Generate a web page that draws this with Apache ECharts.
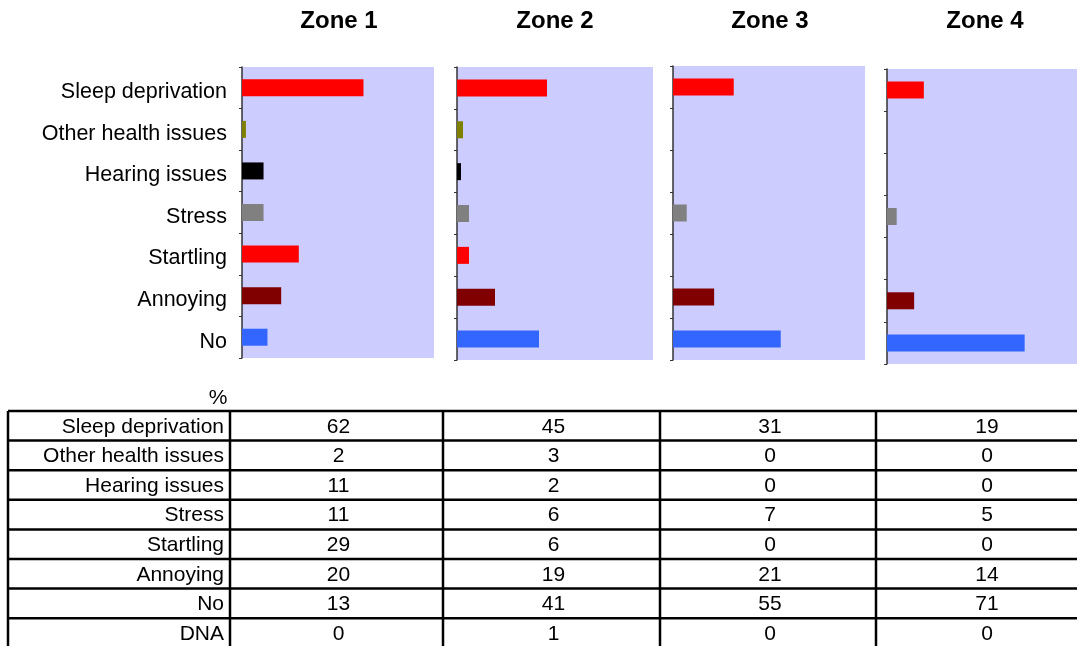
<!DOCTYPE html>
<html>
<head>
<meta charset="utf-8">
<script src="https://cdn.jsdelivr.net/npm/echarts@6/dist/echarts.min.js"></script>
<style>
  html, body { margin: 0; padding: 0; background: #fff; }
  #main { width: 1077px; height: 646px; }
</style>
</head>
<body>
<div id="main"></div>
<script>
// data
const zones = ['Zone 1', 'Zone 2', 'Zone 3', 'Zone 4'];
const categories = ['Sleep deprivation', 'Other health issues', 'Hearing issues', 'Stress', 'Startling', 'Annoying', 'No'];
const rowLabels = categories.concat(['DNA']);
const zone1 = [62, 2, 11, 11, 29, 20, 13, 0];
const zone2 = [45, 3, 2, 6, 6, 19, 41, 1];
const zone3 = [31, 0, 0, 7, 0, 21, 55, 0];
const zone4 = [19, 0, 0, 5, 0, 14, 71, 0];
const zoneValues = [zone1, zone2, zone3, zone4];
const barColors = ['#FF0000', '#808000', '#000000', '#808080', '#FF0000', '#800000', '#3366FF'];

const FONT = '"Liberation Sans", Arial, sans-serif';

// layout of the four small panels
const panels = [
  { left: 242, top: 67, width: 192, height: 291, titleX: 339 },
  { left: 457, top: 67, width: 196, height: 293, titleX: 555 },
  { left: 673, top: 66, width: 192, height: 294, titleX: 770 },
  { left: 887, top: 69, width: 195, height: 295, titleX: 985 }
];

// table geometry
const tableTop = 411;
const rowH = 29.6;
const colX = [8, 230, 443, 660, 876, 1094];
const tableBottom = 646;

const chart = echarts.init(document.getElementById('main'), null, { renderer: 'canvas' });

const grid = panels.map(p => ({
  left: p.left, top: p.top, width: p.width, height: p.height,
  show: true, backgroundColor: '#CCCCFF', borderWidth: 0, containLabel: false
}));

const xAxis = panels.map((p, i) => ({
  type: 'value', gridIndex: i, min: 0, max: 98, show: false
}));

const yAxis = panels.map((p, i) => ({
  type: 'category', gridIndex: i, data: categories, inverse: true,
  axisLine: { show: true, lineStyle: { color: '#333', width: 1.5 } },
  axisTick: { show: true, length: 3, lineStyle: { color: '#333', width: 1 } },
  axisLabel: {
    show: i === 0, margin: 15, color: '#000', fontSize: 21.5, fontFamily: FONT,
    verticalAlign: 'top', lineHeight: 9
  },
  splitLine: { show: false }
}));

const series = zoneValues.map((vals, i) => ({
  type: 'bar', xAxisIndex: i, yAxisIndex: i,
  data: vals.slice(0, categories.length),
  barWidth: 17,
  silent: true,
  itemStyle: { color: (params) => barColors[params.dataIndex] }
}));

// titles + table drawn as graphic elements
const graphics = [];
zones.forEach((z, i) => {
  graphics.push({
    type: 'text', silent: true,
    style: {
      text: z, x: panels[i].titleX, y: 21,
      textAlign: 'center', align: 'center', textVerticalAlign: 'middle', verticalAlign: 'middle',
      font: 'bold 24px ' + FONT, fill: '#000'
    }
  });
});

graphics.push({
  type: 'text', silent: true,
  style: {
    text: '%', x: 218, y: 398,
    textAlign: 'center', align: 'center', textVerticalAlign: 'middle', verticalAlign: 'middle',
    font: '21px ' + FONT, fill: '#000'
  }
});

// horizontal lines
for (let r = 0; r < rowLabels.length; r++) {
  const y = tableTop + r * rowH;
  graphics.push({
    type: 'line', silent: true,
    shape: { x1: colX[0], y1: y, x2: 1077, y2: y },
    style: { stroke: '#000', lineWidth: 2.5 }
  });
}
// vertical lines
colX.slice(0, 5).forEach(x => {
  graphics.push({
    type: 'line', silent: true,
    shape: { x1: x, y1: tableTop, x2: x, y2: tableBottom },
    style: { stroke: '#000', lineWidth: 2.5 }
  });
});
// row labels and values
rowLabels.forEach((lab, r) => {
  const cy = tableTop + r * rowH + rowH / 2 + 1;
  graphics.push({
    type: 'text', silent: true,
    style: {
      text: lab, x: colX[1] - 6, y: cy,
      textAlign: 'right', align: 'right', textVerticalAlign: 'middle', verticalAlign: 'middle',
      font: '21px ' + FONT, fill: '#000'
    }
  });
  zoneValues.forEach((vals, c) => {
    graphics.push({
      type: 'text', silent: true,
      style: {
        text: String(vals[r]), x: (colX[c + 1] + colX[c + 2]) / 2 + 2, y: cy,
        textAlign: 'center', align: 'center', textVerticalAlign: 'middle', verticalAlign: 'middle',
        font: '21px ' + FONT, fill: '#000'
      }
    });
  });
});

chart.setOption({
  animation: false,
  backgroundColor: '#ffffff',
  grid: grid,
  xAxis: xAxis,
  yAxis: yAxis,
  series: series,
  graphic: graphics
});
</script>
</body>
</html>
